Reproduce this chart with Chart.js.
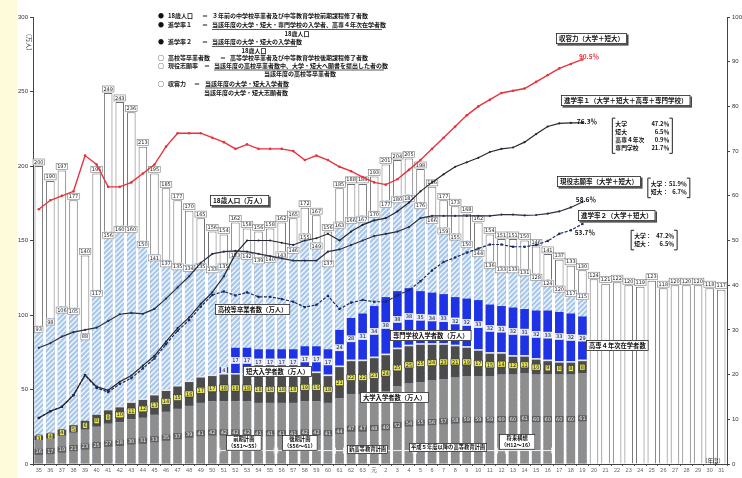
<!DOCTYPE html>
<html><head><meta charset="utf-8">
<script src="https://cdn.jsdelivr.net/npm/chart.js@4.4.1/dist/chart.umd.min.js"></script>
<style>
html,body{margin:0;padding:0;background:#fff;}
#wrap{position:relative;width:742px;height:478px;overflow:hidden;background:#fff;}
#strip{position:absolute;left:0;top:0;width:17px;height:478px;background:#fdfbd9;}
canvas{position:absolute;left:0;top:0;}
</style></head><body>
<div id="wrap"><div id="strip"></div><canvas id="c" width="742" height="478"></canvas></div>
<script>
// ---- categories (年度: 昭和35〜平成31) ----
const yearLabels = ['35','36','37','38','39','40','41','42','43','44','45','46','47','48','49','50','51','52','53','54','55','56','57','58','59','60','61','62','63',
  '元','2','3','4','5','6','7','8','9','10','11','12','13','14','15','16','17','18','19','20','21','22','23','24','25','26','27','28','29','30','31'];
// ---- 18歳人口（万人）----
const pop18 = [200,190,197,177,140,195,249,243,236,213, 195,185,177,170,165,156,154,162,158,156,
  158,162,165,172,167,156,185,188,188,193, 201,204,205,198,186,177,173,168,162,154,
  151,151,150,146,141,137,133,130, 124,121,122,120,119,123,118,120,120,120,118,117];
// ---- 高校等卒業者数（万人）----
const hsGrad = [93,98,106,105,88,117,156,160,160,150, 141,137,135,134,135,133,135,143,142,139,
  140,143,146,155,149,137,163,166,167,170, 177,180,181,176,166,159,155,150,144,136,
  133,133,131,128,124,120,117,115];
// ---- 大学入学者数（万人）----
const univ = [16,17,19,21,23,25,27,28,30,31, 33,35,37,39,41,42,42,42,42,41,
  41,41,41,42,42,41,44,47,47,48, 49,52,54,55,56,57,58,59,59,59,
  60,60,61,60,60,60,60,61];
// ---- 短大入学者数（万人）----
const tandai = [3,3.5,4,5,6,8,9,10,11,12, 13,14,15,16,17,17,18,18,18,18,
  18,18,18,19,19,18,21,22,22,23, 24,25,25,25,24,23,21,19,17,15,
  14,12,11,10,9,8,8,8];
// ---- 高専4年次在学者数（万人）----
const kosen = [0,0,0,0,0,0.3,0.5,0.8,1,1, 1,1,1,1,1,1,1,1,1,1,
  1,1,1,1,1,1,1,1,1,1, 1,1,1,1,1,1,1,1,1,1, 1,1,1,1,1,1,1,1];
// ---- 専門学校入学者数（万人）----
const senmon = [null,null,null,null,null,null,null,null,null,null, null,null,null,null,null,null,4,17,17,17,
  17,17,17,17,17,17,24,28,31,34, 38,38,38,35,34,33,32,32,33,32,
  31,32,31,32,33,33,32,29];
// ---- 収容力（大学＋短大）% ----
const shuyo = [57,59,60,61,69,67,62,62,63,65, 67,71,74,74,74,73,72,70.5,71.5,70.5,
  70.5,70.5,70,68,69,68,66.5,65.5,64.2,63, 62.5,63.7,65.8,68,70.5,73,75.5,78,80,81.5,
  83,83.5,84,85.5,87,88.5,89.5,90.5];
// ---- 進学率1（大学＋短大＋高専＋専門学校）% ----
const shingaku1 = [10.3,11.8,12.8,15.4,19.9,17.3,16.5,18.4,19.8,22.0, 24.2,27.4,30.4,32.8,35.8,38.4,42,47,50,50,
  50,49.5,49,50,50.5,51.5,50,52,53.5,54.5, 55,56.5,58.5,61,63,64.8,66.5,67.5,68.5,69.8,
  70.5,70.8,72,73.8,75.5,76.2,76.3,76.3];
// ---- 現役志願率（大学＋短大）% ----
const genekiShigan = [26,27,28.5,29.5,30,30.5,32,33.5,33.8,33.6, 34.7,37,39.5,42,45,47,47.5,47.7,47.5,47,
  46.5,46,45.5,45.5,45.5,47.5,48,49,50,51, 51.5,52,53,55,55.5,55.5,55.5,55.5,55.5,55.5,
  55.8,55.8,55.6,55.7,56,56.5,57.4,58.6];
// ---- 進学率2（大学＋短大）% ----
const shingaku2 = [10.3,11.8,12.8,15.4,19.9,17.0,16.1,17.9,19.2,21.4, 23.6,26.8,29.8,32.2,35.2,37.8,38.6,37.7,38.4,37.4,
  37.4,36.9,36.3,35.1,35.6,37.6,34.7,36.1,36.7,36.3, 36.3,37.7,38.9,40.9,43.3,45.2,46.2,47.3,48.2,49.1,
  49.1,48.6,48.6,49.0,49.9,51.5,52.3,53.7];

const JP = '"Noto Sans CJK JP", sans-serif';
const ctx = document.getElementById('c').getContext('2d');
function hatch(){
  const c=document.createElement('canvas'); c.width=c.height=5;
  const g=c.getContext('2d');
  g.fillStyle='#a6c6ea'; g.fillRect(0,0,5,5);
  g.strokeStyle='#f4f8ff'; g.lineWidth=1.3;
  g.beginPath(); g.moveTo(-1,6); g.lineTo(6,-1); g.moveTo(-1,1); g.lineTo(1,-1); g.moveTo(4,6); g.lineTo(6,4); g.stroke();
  return ctx.createPattern(c,'repeat');
}
const barBase = {type:'bar', grouped:false, barPercentage:0.74, categoryPercentage:1, yAxisID:'y', borderWidth:0};

function tinyTag(c, text, x, y, bg, border, color){
  c.font = '5px "DejaVu Sans", sans-serif';
  const w = c.measureText(text).width + 2, h = 6;
  if (bg){ c.fillStyle=bg; c.fillRect(x-w/2, y-h/2, w, h); }
  if (border){ c.strokeStyle=border; c.lineWidth=0.6; c.strokeRect(x-w/2, y-h/2, w, h); }
  c.fillStyle=color; c.textAlign='center'; c.textBaseline='middle'; c.fillText(text, x, y+0.3);
}
function fmt(v){ return String(Math.round(v)); }

const labelPlugin = {
  id:'barLabels',
  afterDatasetDraw(chart, args){
    const ds = chart.data.datasets[args.index];
    if (!ds.tag) return;
    const c = chart.ctx; c.save();
    args.meta.data.forEach((el, i) => {
      const v = ds.data[i];
      if (v === null || v === undefined || v < 2.5) return;
      const t = fmt(v);
      if (ds.tag==='pop') tinyTag(c, t, el.x, el.y-4, '#fff', '#777', '#222');
      else if (ds.tag==='hs') tinyTag(c, t, el.x, el.y+4, '#fff', '#888', '#222');
      else if (ds.tag==='univ') tinyTag(c, t, el.x, (el.y+el.base)/2, '#5e5e5e', null, '#eee');
      else if (ds.tag==='tandai') tinyTag(c, t, el.x, (el.y+el.base)/2, '#e6e45a', '#333', '#222');
      else if (ds.tag==='senmon') tinyTag(c, t, el.x, (el.y+el.base)/2, '#e4eaff', '#fff', '#111');
    });
    c.restore();
  }
};

function boxText(c, lines, cx, cy, size, opt={}){
  c.save();
  c.font = (opt.bold?'bold ':'') + size + 'px ' + JP;
  const lh = size + 1.6;
  const w = Math.max(...lines.map(l=>c.measureText(l).width));
  const padX = opt.padX ?? 3, padY = opt.padY ?? 1.5;
  const bw = w + padX*2, bh = lines.length*lh + padY*2;
  const x0 = Math.round(cx - bw/2), y0 = Math.round(cy - bh/2);
  if (opt.shadow !== false){ c.fillStyle='#444'; c.fillRect(x0+1.5, y0+1.5, bw, bh); }
  c.fillStyle = '#fff'; c.fillRect(x0, y0, bw, bh);
  c.strokeStyle = '#222'; c.lineWidth = 0.8; c.strokeRect(x0+0.5, y0+0.5, bw-1, bh-1);
  c.fillStyle = opt.color || '#111'; c.textAlign='center'; c.textBaseline='middle';
  lines.forEach((l,k)=> c.fillText(l, x0+bw/2, y0+padY+lh*(k+0.5)));
  c.restore();
  return {x0, y0, bw, bh};
}
function bracketText(c, rows, cx, cy, size, width){
  c.save();
  c.font = 'bold ' + size + 'px ' + JP;
  const lh = size + 2;
  const h = rows.length*lh + 4;
  const x0 = cx - width/2, y0 = cy - h/2;
  c.strokeStyle='#222'; c.lineWidth=1;
  c.beginPath();
  c.moveTo(x0+3, y0); c.lineTo(x0, y0); c.lineTo(x0, y0+h); c.lineTo(x0+3, y0+h);
  c.moveTo(x0+width-3, y0); c.lineTo(x0+width, y0); c.lineTo(x0+width, y0+h); c.lineTo(x0+width-3, y0+h);
  c.stroke();
  c.fillStyle='#111'; c.textBaseline='middle';
  rows.forEach((r,k)=>{
    const y = y0 + 2 + lh*(k+0.5);
    c.textAlign='left'; c.fillText(r[0], x0+3, y);
    c.textAlign='right'; c.fillText(r[1], x0+width-3, y);
  });
  c.restore();
}

const annotPlugin = {
  id:'annot',
  afterDraw(chart){
    const c = chart.ctx, xs = chart.scales.x, ys = chart.scales.y;
    const P = (i, v) => ({x: xs.getPixelForValue(i), y: ys.getPixelForValue(v)});
    c.save();
    // (万人)
    c.save(); c.font = '6px ' + JP; c.fillStyle='#222'; c.textAlign='center'; c.textBaseline='middle';
    const u = {x: xs.left - 4, y: ys.getPixelForValue(283)};
    c.translate(u.x, u.y); c.rotate(Math.PI/2); c.fillText('（万人）', 0, 0); c.restore();
    // legend block (definitions)
    c.font = 'bold 6px ' + JP; c.fillStyle = '#111'; c.textBaseline='middle'; c.textAlign='left';
    const L = (t, x, y) => c.fillText(t, x, y);
    const U = (x1, x2, y) => { c.strokeStyle='#111'; c.lineWidth=0.7; c.beginPath(); c.moveTo(x1,y); c.lineTo(x2,y); c.stroke(); };
    const C = (t, x, y) => { c.textAlign='center'; c.fillText(t, x, y); c.textAlign='left'; };
    L('●', 158, 16); L('18歳人口', 168, 16); L('＝', 202, 16); L('３年前の中学校卒業者及び中等教育学校前期課程修了者数', 212, 16);
    L('●', 158, 25); L('進学率１', 168, 25); L('＝', 202, 25); L('当該年度の大学・短大・専門学校の入学者、高専４年次在学者数', 212, 25);
    U(212, 382, 29.5); C('18歳人口', 297, 33.5);
    L('●', 158, 42); L('進学率２', 168, 42); L('＝', 202, 42); L('当該年度の大学・短大の入学者数', 212, 42);
    U(212, 297, 46.5); C('18歳人口', 254, 50.5);
    L('○', 158, 58); L('高校等卒業者数', 168, 58); L('＝', 220, 58); L('高等学校卒業者及び中等教育学校後期課程修了者数', 230, 58);
    L('○', 158, 66); L('現役志願率', 168, 66); L('＝', 204, 66); L('当該年度の高校卒業者数中、大学・短大へ願書を提出した者の数', 214, 66);
    U(214, 384, 70); C('当該年度の高校等卒業者数', 300, 74);
    L('○', 158, 84); L('収容力', 168, 84); L('＝', 194, 84); L('当該年度の大学・短大入学者数', 205, 84);
    U(205, 288, 88); C('当該年度の大学・短大志願者数', 246, 92.5);

    // series labels
    let p;
    p = P(17.39, 176.6); boxText(c, ['18歳人口（万人）'], p.x, p.y, 6.5, {bold:true});
    p = P(47.77, 285.5); boxText(c, ['収容力（大学＋短大）'], p.x, p.y, 6.5, {bold:true});
    p = P(46.7, 273.8); c.font='bold 6.5px ' + JP; c.fillStyle='#e8323c'; c.textAlign='left'; c.textBaseline='middle'; c.fillText('90.5％', p.x, p.y);
    p = P(50.71, 244.2); boxText(c, ['進学率１（大学＋短大＋高専＋専門学校）'], p.x, p.y, 6.5, {bold:true});
    p = P(46.52, 230); c.fillStyle='#111'; c.fillText('76.3％', p.x, p.y);
    p = P(52.18, 220.3); bracketText(c, [['大学','47.2％'],['短大','6.5％'],['高専４年次','0.9％'],['専門学校','21.7％']], p.x, p.y, 5.8, 60);
    p = P(48.42, 189.3); boxText(c, ['現役志願率（大学＋短大）'], p.x, p.y, 6.5, {bold:true});
    p = P(54.47, 185.3); bracketText(c, [['大学：','51.9％'],['短大：','6.7％']], p.x, p.y, 5.8, 42);
    p = P(46.43, 177.6); c.font='bold 6.5px ' + JP; c.fillStyle='#111'; c.textAlign='left'; c.textBaseline='middle'; c.fillText('58.6％', p.x, p.y);
    p = P(49.93, 166.8); boxText(c, ['進学率２（大学＋短大）'], p.x, p.y, 6.5, {bold:true});
    p = P(46.34, 155.4); c.font='bold 6.5px ' + JP; c.fillStyle='#111'; c.textAlign='left'; c.fillText('53.7％', p.x, p.y);
    p = P(53.2, 150.3); bracketText(c, [['大学：','47.2％'],['短大：','6.5％']], p.x, p.y, 5.8, 46);
    p = P(18.47, 103.9); boxText(c, ['高校等卒業者数（万人）'], p.x, p.y, 6.3, {bold:true, shadow:false});
    p = P(33.85, 86.4); boxText(c, ['専門学校入学者数（万人）'], p.x, p.y, 6.3, {bold:true, shadow:false});
    p = P(20.67, 61.9); boxText(c, ['短大入学者数（万人）'], p.x, p.y, 6.3, {bold:true, shadow:false});
    p = P(30.79, 44.4); boxText(c, ['大学入学者数（万人）'], p.x, p.y, 6.3, {bold:true, shadow:false});
    p = P(50.0, 79.4); boxText(c, ['高専４年次在学者数'], p.x, p.y, 6.3, {bold:true, shadow:false});

    // planning periods (bottom)
    const periods = [
      {s:16, e:20, ci:17.74, cv:14.1, t:['前期計画','（S51〜55）']},
      {s:21, e:26, ci:22.58, cv:14.1, t:['後期計画','（S56〜61）']},
      {s:26, e:32, ci:28.41, cv:10.1, t:['新高等教育計画']},
      {s:33, e:40, ci:35.41, cv:10.8, t:['平成５年度以降の高等教育計画']},
      {s:40, e:44, ci:41.33, cv:14.5, t:['将来構想','（H12〜16）']},
    ];
    periods.forEach(q => {
      const ly = ys.getPixelForValue(9);
      const a = xs.getPixelForValue(q.s - 0.35), b = xs.getPixelForValue(q.e + 0.35);
      c.strokeStyle = '#f2f2f2'; c.lineWidth = 1;
      c.beginPath(); c.moveTo(a, ly); c.lineTo(b, ly);
      c.moveTo(a, ly-3); c.lineTo(a, ly+3); c.moveTo(b, ly-3); c.lineTo(b, ly+3); c.stroke();
      const pp = P(q.ci, q.cv);
      boxText(c, q.t, pp.x, pp.y, 5.3, {bold:true, shadow:false, padX:2, padY:1});
    });
    p = P(58.3, 2.2); c.font = '5.5px ' + JP; c.fillStyle='#222'; c.textAlign='center'; c.textBaseline='middle'; c.fillText('（年度）', p.x, p.y);
    c.restore();
  }
};

new Chart(ctx, {
  data: {
    labels: yearLabels,
    datasets: [
      {type:'line', label:'収容力', data: shuyo, yAxisID:'y1', order:0, borderColor:'#e8323c', borderWidth:1.4,
        pointRadius:1.3, pointBackgroundColor:'#e8323c', pointBorderWidth:0, tension:0},
      {type:'line', label:'進学率1', data: shingaku1, yAxisID:'y1', order:1, borderColor:'#262633', borderWidth:1.2,
        pointRadius:1.1, pointBackgroundColor:'#262633', pointBorderWidth:0, tension:0},
      {type:'line', label:'現役志願率', data: genekiShigan, yAxisID:'y1', order:2, borderColor:'#2b2f45', borderWidth:1.2,
        pointRadius:1.1, pointBackgroundColor:'#2b2f45', pointBorderWidth:0, tension:0},
      {type:'line', label:'進学率2', data: shingaku2, yAxisID:'y1', order:3, borderColor:'#1b2a64', borderWidth:1.2,
        borderDash:[3,1.5], pointRadius:1.6, pointStyle:'rect', pointBackgroundColor:'#1b2a64', pointBorderWidth:0, tension:0},
      {...barBase, label:'大学入学者数', data: univ, stack:'e', order:4, backgroundColor:'#8e8e8e', tag:'univ'},
      {...barBase, label:'短大入学者数', data: tandai, stack:'e', order:5, backgroundColor:'#4c4c4c', tag:'tandai'},
      {...barBase, label:'高専4年次在学者数', data: kosen, stack:'e', order:6, backgroundColor:'#e8e8e8'},
      {...barBase, label:'専門学校入学者数', data: senmon, stack:'e', order:7, backgroundColor:'#1f33e6', tag:'senmon'},
      {...barBase, label:'高校等卒業者数', data: hsGrad, stack:'h', order:8, backgroundColor: hatch(), tag:'hs'},
      {...barBase, label:'18歳人口', data: pop18, stack:'p', order:9, backgroundColor:'#ffffff', borderColor:'#707070', borderWidth:1, tag:'pop'}
    ]
  },
  options: {
    responsive:false, animation:false, events:[],
    layout:{padding:{top:17, left:0, right:0, bottom:0}},
    plugins:{legend:{display:false}, tooltip:{enabled:false}},
    scales:{
      x:{ stacked:false, offset:true,
        grid:{display:true, drawOnChartArea:false, tickLength:2, color:'#555'},
        border:{display:true, color:'#444', width:1},
        ticks:{font:{size:5.5}, color:'#666', maxRotation:0, minRotation:0, autoSkip:false, padding:1},
        afterFit(s){ s.height = 14; } },
      y:{ position:'left', stacked:true, min:0, max:300,
        grid:{drawOnChartArea:false, tickLength:3, color:'#444'},
        border:{display:true, color:'#444', width:1},
        ticks:{stepSize:50, font:{size:6}, color:'#333', padding:2},
        afterFit(s){ s.width = 33; } },
      y1:{ position:'right', stacked:false, min:0, max:100,
        grid:{drawOnChartArea:false, tickLength:3, color:'#444'},
        border:{display:true, color:'#444', width:1},
        ticks:{stepSize:10, font:{size:6}, color:'#333', padding:2},
        afterFit(s){ s.width = 15; } }
    }
  },
  plugins:[labelPlugin, annotPlugin]
});
</script>
</body></html>
